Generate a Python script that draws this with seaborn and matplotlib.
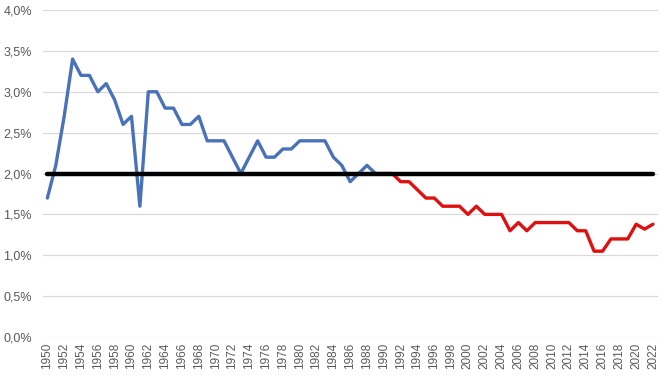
import numpy as np
import pandas as pd
import seaborn as sns
import matplotlib.pyplot as plt
from matplotlib.ticker import FuncFormatter

# Blue series: 1950-1990
blue_years = list(range(1950, 1991))
blue_values = [1.7, 2.1, 2.7, 3.4, 3.2, 3.2, 3.0, 3.1, 2.9, 2.6,
               2.7, 1.6, 3.0, 3.0, 2.8, 2.8, 2.6, 2.6, 2.7, 2.4,
               2.4, 2.4, 2.2, 2.0, 2.2, 2.4, 2.2, 2.2, 2.3, 2.3,
               2.4, 2.4, 2.4, 2.4, 2.2, 2.1, 1.9, 2.0, 2.1, 2.0,
               2.0]

# Red series: 1990-2022
red_years = list(range(1990, 2023))
red_values = [2.0, 2.0, 1.9, 1.9, 1.8, 1.7, 1.7, 1.6, 1.6, 1.6,
              1.5, 1.6, 1.5, 1.5, 1.5, 1.3, 1.4, 1.3, 1.4, 1.4,
              1.4, 1.4, 1.4, 1.3, 1.3, 1.05, 1.05, 1.2, 1.2, 1.2,
              1.38, 1.32, 1.38]

# Target line
target_years = [1950, 2022]
target_values = [2.0, 2.0]

y_ticks = [0.0, 0.5, 1.0, 1.5, 2.0, 2.5, 3.0, 3.5, 4.0]
x_ticks = list(range(1950, 2023, 2))

blue_df = pd.DataFrame({'year': blue_years, 'value': blue_values})
red_df = pd.DataFrame({'year': red_years, 'value': red_values})
target_df = pd.DataFrame({'year': target_years, 'value': target_values})

sns.set_style("white")
plt.rcParams['font.family'] = ['Liberation Sans', 'DejaVu Sans']

fig = plt.figure(figsize=(6.64, 3.77), dpi=100)
ax = fig.add_axes([0.065, 0.106, 0.926, 0.8675])

sns.lineplot(data=blue_df, x='year', y='value', color='#4a72b8', linewidth=2.4, ax=ax)
sns.lineplot(data=red_df, x='year', y='value', color='#de1010', linewidth=2.4, ax=ax)
sns.lineplot(data=target_df, x='year', y='value', color='black', linewidth=3.2, ax=ax)

ax.set_xlim(1949.5, 2022.6)
ax.set_ylim(0, 4.0)
ax.set_yticks(y_ticks)
ax.yaxis.set_major_formatter(FuncFormatter(lambda v, p: f"{v:.1f}%".replace('.', ',')))
ax.set_xticks(x_ticks)
ax.set_xticklabels([str(y) for y in x_ticks], rotation=90)

ax.grid(axis='y', color='#d9d9d9', linewidth=0.9)
ax.set_axisbelow(True)
for side in ['top', 'right', 'left', 'bottom']:
    ax.spines[side].set_visible(False)
ax.tick_params(axis='both', length=0, colors='#595959', labelsize=9)
ax.tick_params(axis='x', pad=4, labelsize=8.5)
ax.tick_params(axis='y', pad=8)
ax.set_xlabel('')
ax.set_ylabel('')

plt.savefig('out.png', dpi=100)
